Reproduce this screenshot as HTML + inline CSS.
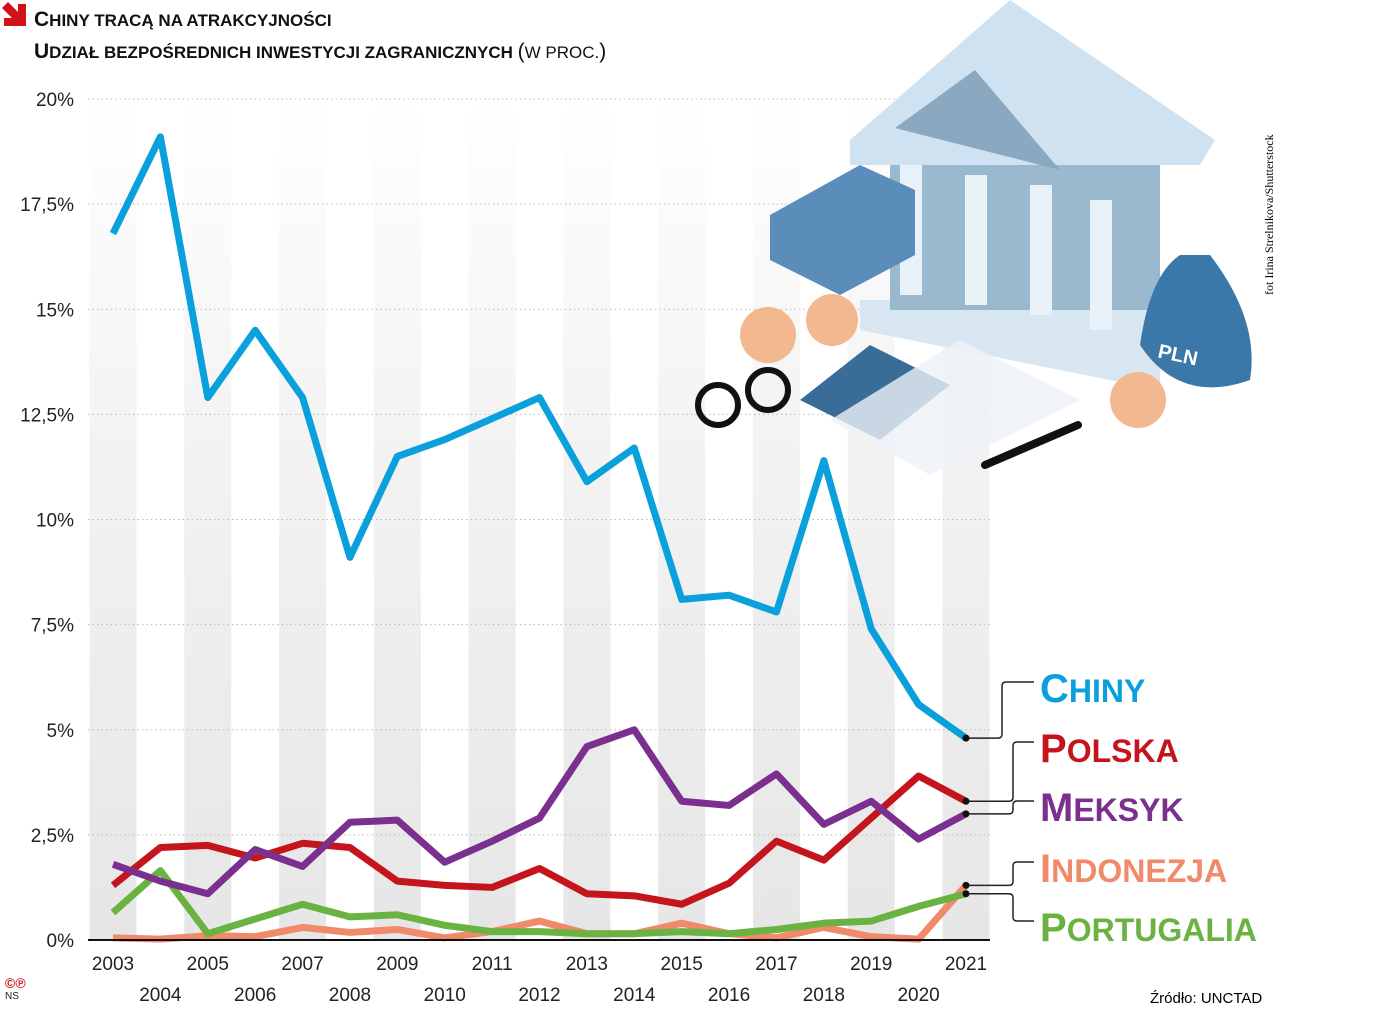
<!DOCTYPE html>
<html><head><meta charset="utf-8"><style>
body{margin:0;background:#fff;width:1400px;height:1011px;overflow:hidden;font-family:"Liberation Sans",sans-serif}
#t1,#t2{position:absolute;left:34px;font-weight:bold;color:#111;font-size:17px;white-space:nowrap;text-transform:uppercase}
#t1{top:8px}#t2{top:40px}
.b{font-size:21px}
</style></head><body>
<svg style="position:absolute;left:2px;top:2px" width="26" height="26"><polygon points="0,6 6,0 16,10 16,2 24,2 24,24 2,24 2,16 10,16" fill="#d0121b"/></svg>
<div id="t1"><span class="b">C</span>hiny tracą na atrakcyjności</div>
<div id="t2"><span class="b">U</span>dział bezpośrednich inwestycji zagranicznych <span style="font-weight:normal"><span class="b">(</span>w proc.<span class="b">)</span></span></div>
<svg id="c" width="1400" height="1011" style="position:absolute;left:0;top:0">
<defs><linearGradient id="g" x1="0" y1="0" x2="0" y2="1"><stop offset="0" stop-color="#fff"/><stop offset="0.4" stop-color="#f3f3f3"/><stop offset="1" stop-color="#e6e6e6"/></linearGradient></defs>
<g id="bands"></g><g id="grid"></g><g id="illus">
<polygon points="860,300 1160,300 1160,390 860,330" fill="#d8e6f2"/>
<rect x="890" y="160" width="270" height="150" fill="#9ab8ce"/>
<polygon points="850,140 1010,0 1215,140 1200,165 850,165" fill="#cfe2f2"/>
<polygon points="895,128 975,70 1060,170" fill="#8aa8bf"/>
<rect x="900" y="165" width="22" height="130" fill="#e8f1f8"/><rect x="965" y="175" width="22" height="130" fill="#e8f1f8"/><rect x="1030" y="185" width="22" height="130" fill="#e8f1f8"/><rect x="1090" y="200" width="22" height="130" fill="#e8f1f8"/>
<polygon points="770,215 860,165 915,190 915,255 840,295 770,260" fill="#5a8dba"/>
<path d="M1180,255 q-30,20 -40,90 q40,60 110,35 q10,-60 -40,-125z" fill="#3b78aa"/>
<text x="1158" y="362" font-size="20" font-weight="bold" fill="#fff" transform="rotate(12 1180 355)">PLN</text>
<circle cx="768" cy="335" r="28" fill="#f2b88f"/><circle cx="832" cy="320" r="26" fill="#f2b88f"/><circle cx="1138" cy="400" r="28" fill="#f2b88f"/>
<polygon points="800,400 870,345 950,385 880,440" fill="#3a6c98"/>
<polygon points="830,420 960,340 1080,400 930,475" fill="#eef3f8" opacity="0.8"/>
<line x1="985" y1="465" x2="1078" y2="425" stroke="#111" stroke-width="8" stroke-linecap="round"/>
<circle cx="718" cy="405" r="20" fill="none" stroke="#111" stroke-width="6"/><circle cx="768" cy="390" r="20" fill="none" stroke="#111" stroke-width="6"/>
</g>
<g id="lines"></g><g id="axes"></g>
</svg>
<div style="position:absolute;left:1262px;top:295px;transform:rotate(-90deg);transform-origin:0 0;font-family:'Liberation Serif',serif;font-size:12px;white-space:nowrap">fot Irina Strelnikova/Shutterstock</div>
<div style="position:absolute;left:1150px;top:990px;font-size:15px">Źródło: UNCTAD</div>
<div style="position:absolute;left:5px;top:975px;font-size:14px;color:#d0121b;font-weight:bold">©℗<div style="color:#222;font-size:10px;font-weight:normal">NS</div></div>
<script>
const years=[2003,2004,2005,2006,2007,2008,2009,2010,2011,2012,2013,2014,2015,2016,2017,2018,2019,2020,2021];
const yTicks=[0,2.5,5,7.5,10,12.5,15,17.5,20];
const yTickLabels=["0%","2,5%","5%","7,5%","10%","12,5%","15%","17,5%","20%"];
const chiny=[16.8,19.1,12.9,14.5,12.9,9.1,11.5,11.9,12.4,12.9,10.9,11.7,8.1,8.2,7.8,11.4,7.4,5.6,4.8];
const polska=[1.3,2.2,2.25,1.95,2.3,2.2,1.4,1.3,1.25,1.7,1.1,1.05,0.85,1.35,2.35,1.9,2.9,3.9,3.3];
const meksyk=[1.8,1.4,1.1,2.15,1.75,2.8,2.85,1.85,2.35,2.9,4.6,5.0,3.3,3.2,3.95,2.75,3.3,2.4,3.0];
const indonezja=[0.05,0.02,0.1,0.08,0.3,0.18,0.25,0.05,0.2,0.45,0.15,0.15,0.4,0.15,0.05,0.3,0.08,0.02,1.3];
const portugalia=[0.65,1.65,0.15,0.5,0.85,0.55,0.6,0.35,0.2,0.2,0.15,0.15,0.2,0.15,0.25,0.4,0.45,0.8,1.1];
const X=i=>113+i*(966-113)/18, Y=v=>940-v*42.05;
const NS="http://www.w3.org/2000/svg";
function mk(p,tag,a){const e=document.createElementNS(NS,tag);for(const k in a)e.setAttribute(k,a[k]);(typeof p=='string'?document.getElementById(p):p).appendChild(e);return e;}
years.forEach((y,i)=>{if(i%2==0){const b=mk('bands','rect',{x:X(i)-23.5,y:100,width:47,height:840,fill:'url(#g)'});

}
const t=mk('axes','text',{x:X(i),y:i%2?1001:970,'font-size':19,'text-anchor':'middle',fill:'#222'});t.textContent=y;

});
yTicks.forEach((v,i)=>{if(v>0){const l=mk('grid','line',{x1:88,x2:990,y1:Y(v),y2:Y(v),stroke:'#bbb','stroke-dasharray':'1.5 3'});

}
const t=mk('axes','text',{x:74,y:Y(v)+7,'font-size':19,'text-anchor':'end',fill:'#222'});t.textContent=yTickLabels[i];

});
const ax=mk('axes','line',{x1:88,x2:990,y1:940,y2:940,stroke:'#111','stroke-width':2});


const series=[["indonezja",indonezja,"#f08a6a","Indonezja",868],["portugalia",portugalia,"#6ab343","Portugalia",927],["polska",polska,"#c4141c","Polska",748],["meksyk",meksyk,"#7b2f8e","Meksyk",807],["chiny",chiny,"#0aa0dc","Chiny",688]];
series.forEach(([n,d,c,lab,ly])=>{
const p=mk('lines','polyline',{points:d.map((v,i)=>X(i)+','+Y(v)).join(' '),fill:'none',stroke:c,'stroke-width':7,'stroke-linejoin':'round'});


const ex=X(18),ey=Y(d[18]),lx=n=='chiny'?1002:1013;
const ld=mk('axes','path',{d:`M${ex},${ey} H${lx-4} Q${lx},${ey} ${lx},${ey-4} V${ly-2} Q${lx},${ly-6} ${lx+4},${ly-6} H1034`,fill:'none',stroke:'#222','stroke-width':1.5});
if(n=='portugalia')ld.setAttribute('d',`M${ex},${ey} H${lx-4} Q${lx},${ey} ${lx},${ey+4} V${ly-10} Q${lx},${ly-6} ${lx+4},${ly-6} H1034`);


const dot=mk('axes','circle',{cx:ex,cy:ey,r:3.5,fill:'#111'});


const t=mk('axes','text',{x:1040,y:ly+14,'font-size':40,'font-weight':'bold',fill:c});
const s1=mk(t,'tspan',{});s1.textContent=lab[0];
const s2=mk(t,'tspan',{'font-size':32});s2.textContent=lab.slice(1).toUpperCase();

});
</script>
</body></html>
